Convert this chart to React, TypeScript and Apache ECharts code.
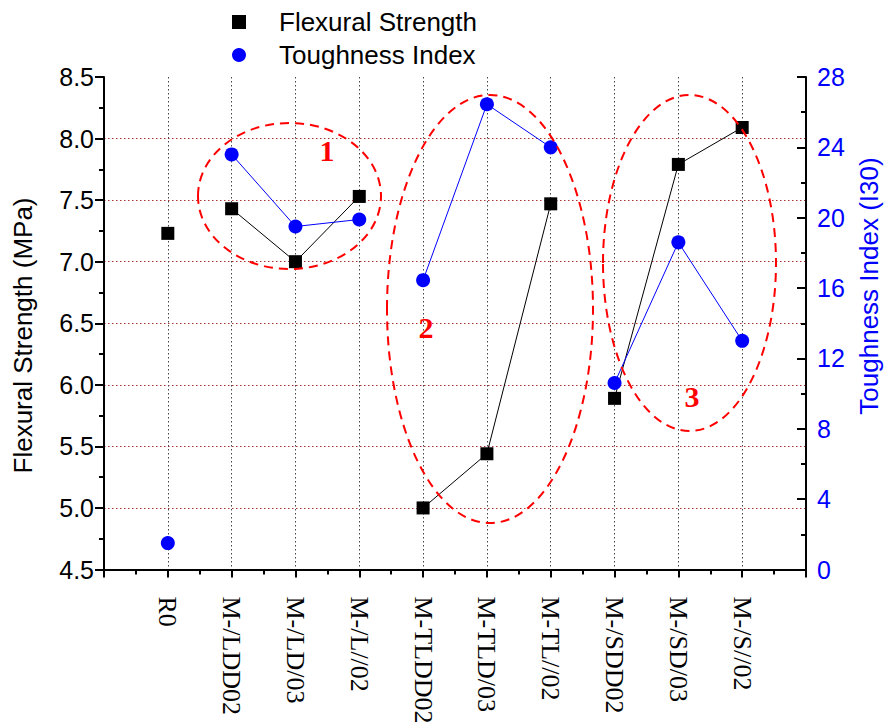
import React, { useEffect, useRef } from "react";
import * as echarts from "echarts";

const categories = [
  "R0", "M-/LDD02", "M-/LD/03", "M-/L//02", "M-TLDD02",
  "M-TLD/03", "M-TL//02", "M-/SDD02", "M-/SD/03", "M-/S//02",
];
const flexuralStrength = [7.23, 7.43, 7.0, 7.53, 5.0, 5.44, 7.47, 5.89, 7.79, 8.09];
const toughnessIndex = [1.5, 23.6, 19.5, 19.9, 16.45, 26.45, 24.0, 10.6, 18.6, 13.0];
const groups = [[0], [1, 2, 3], [4, 5, 6], [7, 8, 9]];
const leftTicks = { min: 4.5, max: 8.5, interval: 0.5 };
const rightTicks = { min: 0, max: 28, interval: 4 };

export default function App() {
  const ref = useRef<HTMLDivElement>(null);
  useEffect(() => {
    if (!ref.current) return;
    const chart = echarts.init(ref.current, undefined, { renderer: "svg" });
    const series: any[] = [];
    groups.forEach((g) => {
      series.push({
        name: "Flexural Strength",
        type: "line",
        yAxisIndex: 0,
        symbol: "rect",
        symbolSize: 13,
        itemStyle: { color: "#000" },
        lineStyle: { color: "#000", width: 1 },
        data: g.map((i) => [i + 1, flexuralStrength[i]]),
        z: 3,
      });
      series.push({
        name: "Toughness Index",
        type: "line",
        yAxisIndex: 1,
        symbol: "circle",
        symbolSize: 14,
        itemStyle: { color: "#0000ff" },
        lineStyle: { color: "#0000ff", width: 1 },
        data: g.map((i) => [i + 1, toughnessIndex[i]]),
        z: 4,
      });
    });
    const ellipseStyle = { fill: "none", stroke: "#ff0000", lineWidth: 2, lineDash: [9, 6] };
    const numStyle = (t: string) => ({
      text: t,
      fill: "#ff0000",
      font: "bold 30px 'Liberation Serif'",
      textAlign: "center",
      textVerticalAlign: "middle",
    });
    chart.setOption({
      animation: false,
      backgroundColor: "#fff",
      grid: { left: 104, right: 80, top: 77, bottom: 158.5, containLabel: false },
      legend: {
        orient: "vertical",
        left: 227,
        top: 4,
        itemWidth: 14,
        itemHeight: 14,
        itemGap: 7,
        textStyle: {
          fontFamily: "Liberation Sans",
          fontSize: 26,
          color: "#000",
          padding: [0, 0, 0, 28],
        },
        data: [
          { name: "Flexural Strength", icon: "rect" },
          { name: "Toughness Index", icon: "circle" },
        ],
      },
      xAxis: {
        type: "value",
        min: 0,
        max: categories.length + 1,
        interval: 1,
        axisLine: { show: true, lineStyle: { color: "#000", width: 2 } },
        axisTick: { show: true, inside: false, length: 8, lineStyle: { color: "#000", width: 2 } },
        minorTick: { show: true, splitNumber: 2, length: 5, lineStyle: { color: "#000", width: 2 } },
        splitLine: {
          show: true,
          showMinLine: false,
          showMaxLine: false,
          lineStyle: { color: "#444", type: [1.5, 2.5], width: 1 },
        },
        axisLabel: {
          rotate: -90,
          margin: 27,
          fontFamily: "Liberation Serif",
          fontSize: 26,
          color: "#000",
          formatter: (v: number) => categories[v - 1] ?? "",
        },
      },
      yAxis: [
        {
          type: "value",
          position: "left",
          min: leftTicks.min,
          max: leftTicks.max,
          interval: leftTicks.interval,
          axisLine: { show: true, lineStyle: { color: "#000", width: 2 } },
          axisTick: { show: true, inside: false, length: 9, lineStyle: { color: "#000", width: 2 } },
          minorTick: { show: true, splitNumber: 2, length: 5, lineStyle: { color: "#000", width: 2 } },
          splitLine: {
            show: true,
            showMinLine: false,
            showMaxLine: false,
            lineStyle: { color: "#b03030", type: [1.5, 2.5], width: 1 },
          },
          axisLabel: {
            margin: 10,
            fontFamily: "Liberation Sans",
            fontSize: 25,
            color: "#000",
            formatter: (v: number) => v.toFixed(1),
          },
        },
        {
          type: "value",
          position: "right",
          min: rightTicks.min,
          max: rightTicks.max,
          interval: rightTicks.interval,
          axisLine: { show: true, lineStyle: { color: "#000", width: 2 } },
          axisTick: { show: true, inside: true, length: 9, lineStyle: { color: "#000", width: 2 } },
          minorTick: { show: true, splitNumber: 2, length: 5, lineStyle: { color: "#000", width: 2 } },
          splitLine: { show: false },
          axisLabel: {
            margin: 11,
            fontFamily: "Liberation Sans",
            fontSize: 25,
            color: "#0000ff",
          },
        },
      ],
      graphic: [
        { type: "ellipse", z: 100, shape: { cx: 289.5, cy: 196, rx: 91.5, ry: 73 }, style: ellipseStyle },
        { type: "ellipse", z: 100, shape: { cx: 490, cy: 309, rx: 103, ry: 214 }, style: ellipseStyle },
        { type: "ellipse", z: 100, shape: { cx: 689.5, cy: 263, rx: 86.5, ry: 168 }, style: ellipseStyle },
        { type: "text", z: 100, x: 327, y: 150, style: numStyle("1") },
        { type: "text", z: 100, x: 426, y: 327, style: numStyle("2") },
        { type: "text", z: 100, x: 692, y: 396, style: numStyle("3") },
        {
          type: "text",
          z: 100,
          x: 22.5,
          y: 335.5,
          rotation: Math.PI / 2,
          style: {
            text: "Flexural Strength (MPa)",
            fill: "#000",
            font: "26px 'Liberation Sans'",
            textAlign: "center",
            textVerticalAlign: "middle",
          },
        },
        {
          type: "text",
          z: 100,
          x: 869,
          y: 286,
          rotation: Math.PI / 2,
          style: {
            text: "Toughness Index (I30)",
            fill: "#0000ff",
            font: "26px 'Liberation Sans'",
            textAlign: "center",
            textVerticalAlign: "middle",
          },
        },
      ],
      series,
    });
    return () => chart.dispose();
  }, []);
  return (
    <div
      ref={ref}
      style={{ position: "fixed", left: 0, top: 0, width: 886, height: 728, background: "#fff" }}
    />
  );
}
